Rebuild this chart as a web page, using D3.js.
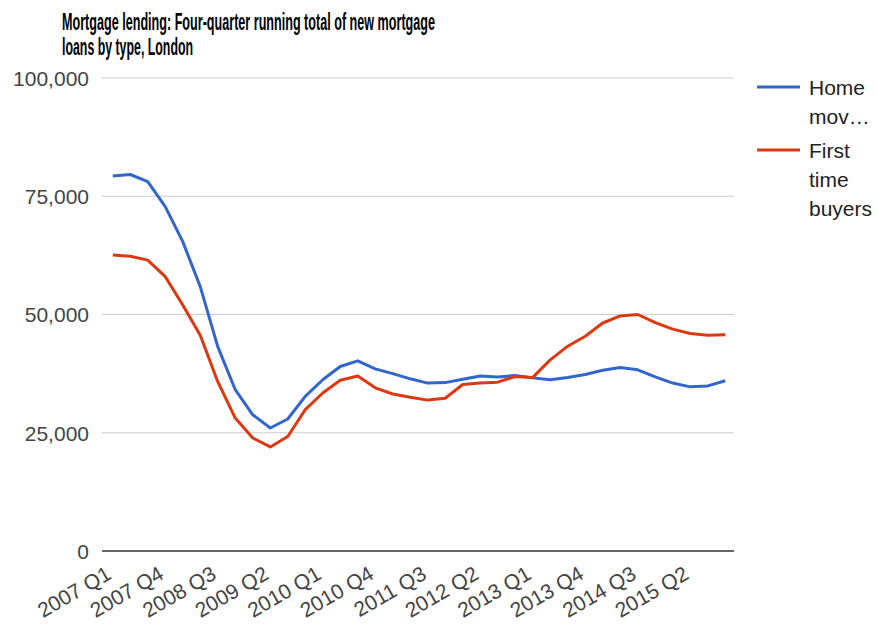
<!DOCTYPE html>
<html>
<head>
<meta charset="utf-8">
<script src="https://cdn.jsdelivr.net/npm/d3@7"></script>
<style>
  body { margin: 0; background: #fff; }
  text { font-family: Arial, "Liberation Sans", sans-serif; }
</style>
</head>
<body>
<div id="chart"></div>
<script>
// Chart data
var quarters = [
  "2007 Q1", "2007 Q2", "2007 Q3", "2007 Q4",
  "2008 Q1", "2008 Q2", "2008 Q3", "2008 Q4",
  "2009 Q1", "2009 Q2", "2009 Q3", "2009 Q4",
  "2010 Q1", "2010 Q2", "2010 Q3", "2010 Q4",
  "2011 Q1", "2011 Q2", "2011 Q3", "2011 Q4",
  "2012 Q1", "2012 Q2", "2012 Q3", "2012 Q4",
  "2013 Q1", "2013 Q2", "2013 Q3", "2013 Q4",
  "2014 Q1", "2014 Q2", "2014 Q3", "2014 Q4",
  "2015 Q1", "2015 Q2", "2015 Q3", "2015 Q4"
];
var homeMovers = [
  79300, 79600, 78100, 72800, 65400, 55900, 43200, 34100, 28800, 26000,
  27900, 32700, 36200, 39000, 40200, 38500, 37500, 36400, 35500, 35600,
  36300, 37000, 36800, 37100, 36600, 36200, 36700, 37300, 38200, 38800,
  38300, 36800, 35500, 34700, 34900, 36000
];
var firstTimeBuyers = [
  62600, 62300, 61500, 58000, 52000, 45600, 35800, 28100, 23900, 22000,
  24200, 29900, 33400, 36100, 37000, 34500, 33200, 32500, 31900, 32300,
  35200, 35500, 35700, 36900, 36700, 40400, 43300, 45400, 48200, 49700,
  50000, 48300, 46900, 46000, 45600, 45700
];
var yTicks = [0, 25000, 50000, 75000, 100000];
var xTickLabels = ["2007 Q1", "2007 Q4", "2008 Q3", "2009 Q2", "2010 Q1", "2010 Q4",
  "2011 Q3", "2012 Q2", "2013 Q1", "2013 Q4", "2014 Q3", "2015 Q2"];

var seriesNames = ["Home\nmov…", "First\ntime\nbuyers"];
var seriesColors = ["#3366cc", "#dc3912"];

var svgWidth = 878;
var svgHeight = 624;

var margin = { top: 78, right: 144, bottom: 73, left: 104 };
var chartWidth = svgWidth - margin.left - margin.right;
var chartHeight = svgHeight - margin.top - margin.bottom;

var svg = d3.select("#chart")
  .append("svg")
  .attr("width", svgWidth)
  .attr("height", svgHeight);

var chartGroup = svg.append("g")
  .attr("transform", `translate(${margin.left}, ${margin.top})`);

// scales
var xBand = d3.scaleBand()
  .domain(quarters)
  .range([0, chartWidth])
  .padding(0);
var xCenter = q => xBand(q) + xBand.bandwidth() / 2;

var yScale = d3.scaleLinear()
  .domain([0, 100000])
  .range([chartHeight, 0]);

// gridlines
chartGroup.append("g")
  .selectAll("line")
  .data(yTicks.filter(d => d > 0))
  .join("line")
  .attr("x1", -2)
  .attr("x2", chartWidth)
  .attr("y1", d => yScale(d))
  .attr("y2", d => yScale(d))
  .attr("stroke", "#cccccc")
  .attr("stroke-width", 1);

// y axis labels
var leftAxis = d3.axisLeft(yScale)
  .tickValues(yTicks)
  .tickSize(0)
  .tickPadding(15)
  .tickFormat(d3.format(","));

var yAxis = chartGroup.append("g").call(leftAxis);
yAxis.select(".domain").remove();
yAxis.selectAll("text")
  .attr("font-size", "21px")
  .attr("font-family", "Arial, 'Liberation Sans', sans-serif")
  .attr("fill", "#444444")
  .attr("dy", "0.35em");

// lines
var line = d3.line()
  .x((d, i) => xCenter(quarters[i]))
  .y(d => yScale(d));

[homeMovers, firstTimeBuyers].forEach(function(series, k) {
  chartGroup.append("path")
    .datum(series)
    .attr("fill", "none")
    .attr("stroke", seriesColors[k])
    .attr("stroke-width", 3)
    .attr("stroke-linejoin", "round")
    .attr("d", line);
});

// baseline
chartGroup.append("line")
  .attr("x1", -2)
  .attr("x2", chartWidth)
  .attr("y1", yScale(0))
  .attr("y2", yScale(0))
  .attr("stroke", "#333333")
  .attr("stroke-width", 1.5);

// x axis, slanted labels
var bottomAxis = d3.axisBottom(xBand)
  .tickValues(xTickLabels)
  .tickSize(0)
  .tickPadding(0);

var xAxis = chartGroup.append("g")
  .attr("transform", `translate(0, ${chartHeight})`)
  .call(bottomAxis);
xAxis.select(".domain").remove();
xAxis.selectAll("text")
  .attr("font-size", "21px")
  .attr("font-family", "Arial, 'Liberation Sans', sans-serif")
  .attr("fill", "#444444")
  .attr("text-anchor", "end")
  .attr("y", 0)
  .attr("dy", 0)
  .attr("transform", "translate(0, 27) rotate(-30)");

// title
var titleLines = ["Mortgage lending: Four-quarter running total of new mortgage", "loans by type, London"];
var titleWidths = [373, 131];
svg.append("g")
  .selectAll("text")
  .data(titleLines)
  .join("text")
  .attr("x", 62)
  .attr("y", (d, i) => 30 + i * 25)
  .attr("font-size", "23px")
  .attr("font-weight", "bold")
  .attr("fill", "#000")
  .attr("textLength", (d, i) => titleWidths[i])
  .attr("lengthAdjust", "spacingAndGlyphs")
  .text(d => d);

// legend
var legend = svg.append("g");
var legendY = [87, 150];
seriesNames.forEach(function(name, k) {
  legend.append("line")
    .attr("x1", 757)
    .attr("x2", 800)
    .attr("y1", legendY[k])
    .attr("y2", legendY[k])
    .attr("stroke", seriesColors[k])
    .attr("stroke-width", 3);
  legend.append("text")
    .attr("x", 809)
    .attr("y", legendY[k] + 8)
    .attr("font-size", "21px")
    .attr("fill", "#222222")
    .selectAll("tspan")
    .data(name.split("\n"))
    .join("tspan")
    .attr("x", 809)
    .attr("dy", (d, i) => i === 0 ? 0 : 29)
    .text(d => d);
});
</script>
</body>
</html>
